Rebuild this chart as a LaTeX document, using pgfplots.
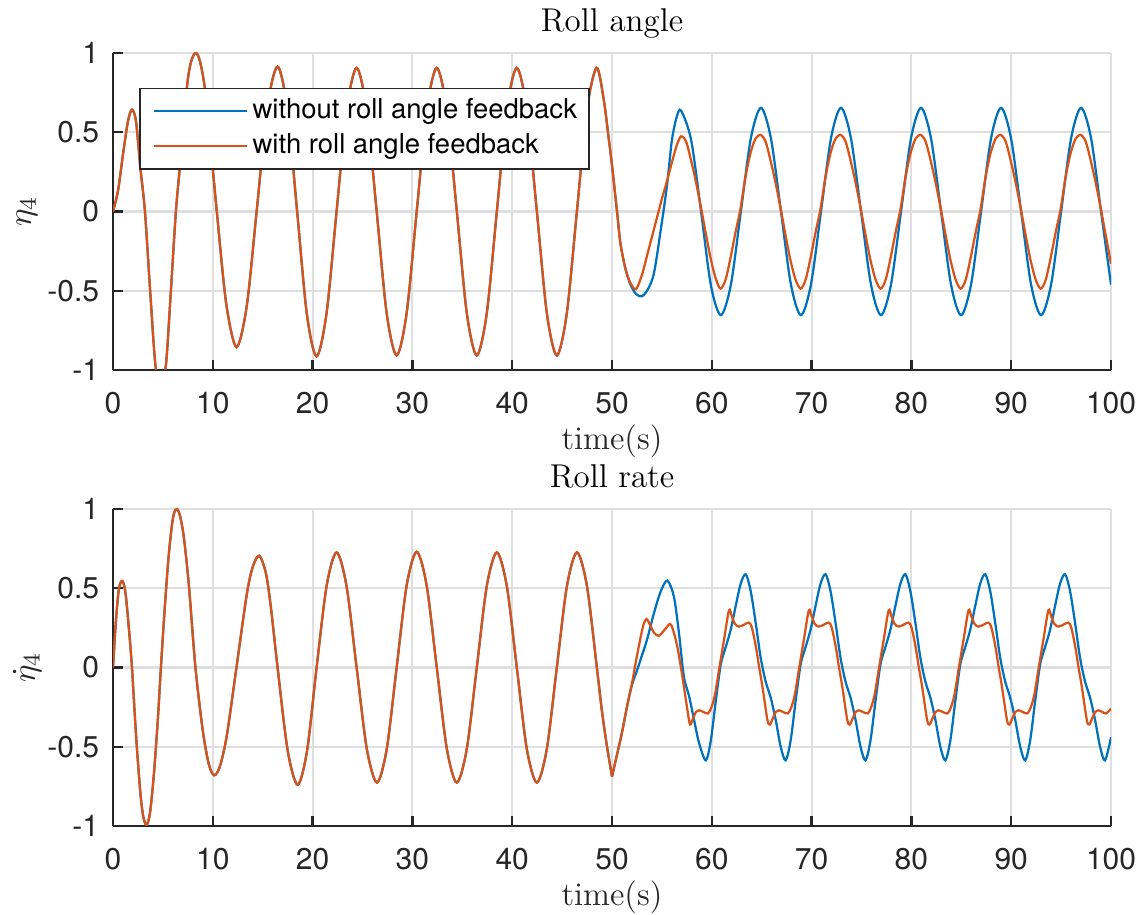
\documentclass[border=0pt]{standalone}
\usepackage{fontspec}
\usepackage{pgfplots}
\usepackage{pgfplotstable}
\pgfplotsset{compat=1.18}
\newfontfamily\heros{TeX Gyre Heros}
\definecolor{mblue}{HTML}{0072BD}
\definecolor{morange}{HTML}{D95319}
\definecolor{axgray}{HTML}{262626}
\definecolor{gridgray}{HTML}{DFDFDF}

% ---------- Roll angle, common part (both series identical) ----------
\pgfplotstableread{
t y
0 0
0.5 0.13
1.0 0.36
1.5 0.57
1.9 0.642
2.3 0.57
2.75 0.27
3.2 0.0
3.7 -0.48
4.25 -0.97
4.78 -1.1
5.3 -0.97
5.8 -0.5
6.3 0.0
6.7 0.28
7.4 0.78
7.8 0.94
8.26 1.0
8.7 0.95
9.29 0.73
10.4 0.0
11.34 -0.58
12.37 -0.856
13.4 -0.597
14.39 0.0
15.46 0.655
16.49 0.914
17.47 0.646
18.45 0.0
19.42 -0.646
20.4 -0.914
21.4 -0.64
22.4 0.0
23.41 0.64
24.41 0.906
25.41 0.64
26.42 0.0
27.42 -0.642
28.42 -0.908
29.42 -0.642
30.43 0.0
31.44 0.64
32.44 0.906
33.44 0.64
34.45 0.0
35.45 -0.642
36.45 -0.908
37.45 -0.642
38.46 0.0
39.46 0.64
40.46 0.906
41.46 0.64
42.47 0.0
43.47 -0.642
44.47 -0.908
45.47 -0.642
46.48 0.0
47.48 0.64
48.45 0.906
49.16 0.71
49.67 0.46
50.0 0.29
50.5 0.0
50.84 -0.2
51.34 -0.36
}\topcommon

\pgfplotstableread{
t y
51.84 -0.46
52.4 -0.52
53.0 -0.535
53.6 -0.49
54.2 -0.39
54.85 -0.13
55.5 0.16
56.0 0.45
56.5 0.60
56.93 0.635
57.93 0.45
58.92 0.0
59.92 -0.47
60.91 -0.654
61.91 -0.462
62.91 0
63.91 0.462
64.92 0.654
65.92 0.462
66.93 0
67.93 -0.462
68.93 -0.654
69.93 -0.462
70.94 0
71.94 0.462
72.94 0.654
73.94 0.462
74.95 0
75.95 -0.462
76.95 -0.654
77.95 -0.462
78.96 0
79.96 0.462
80.96 0.654
81.96 0.462
82.97 0
83.97 -0.462
84.97 -0.654
85.97 -0.462
86.98 0
87.98 0.462
88.98 0.654
89.98 0.462
90.99 0
91.99 -0.462
92.99 -0.654
93.99 -0.462
95.0 0
96.0 0.462
97.0 0.654
98.0 0.462
99.0 0
100 -0.462
}\topblueB

\pgfplotstableread{
t y
51.84 -0.45
52.4 -0.49
53.0 -0.40
53.5 -0.28
54.0 -0.16
54.5 -0.04
55.0 0.08
55.5 0.19
56.0 0.31
56.5 0.42
56.93 0.474
57.43 0.44
57.93 0.32
58.43 0.18
58.93 0.02
59.43 -0.15
59.93 -0.31
60.43 -0.43
60.88 -0.487
61.38 -0.43
61.88 -0.29
62.38 -0.13
62.88 0.02
63.38 0.22
63.88 0.37
64.38 0.46
64.89 0.483
65.39 0.44
65.89 0.32
66.39 0.18
66.89 0.02
67.39 -0.15
67.89 -0.31
68.39 -0.43
68.90 -0.487
69.40 -0.43
69.90 -0.29
70.40 -0.13
70.90 0.02
71.40 0.22
71.90 0.37
72.40 0.46
72.91 0.483
73.41 0.44
73.91 0.32
74.41 0.18
74.91 0.02
75.41 -0.15
75.91 -0.31
76.41 -0.43
76.92 -0.487
77.42 -0.43
77.92 -0.29
78.42 -0.13
78.92 0.02
79.42 0.22
79.92 0.37
80.42 0.46
80.93 0.483
81.43 0.44
81.93 0.32
82.43 0.18
82.93 0.02
83.43 -0.15
83.93 -0.31
84.43 -0.43
84.94 -0.487
85.44 -0.43
85.94 -0.29
86.44 -0.13
86.94 0.02
87.44 0.22
87.94 0.37
88.44 0.46
88.95 0.483
89.45 0.44
89.95 0.32
90.45 0.18
90.95 0.02
91.45 -0.15
91.95 -0.31
92.45 -0.43
92.96 -0.487
93.46 -0.43
93.96 -0.29
94.46 -0.13
94.96 0.02
95.46 0.22
95.96 0.37
96.46 0.46
96.97 0.483
97.47 0.44
97.97 0.32
98.47 0.18
98.97 0.02
99.47 -0.15
100 -0.33
}\toporangeB

\pgfplotstablevertcat{\topblue}{\topcommon}
\pgfplotstablevertcat{\topblue}{\topblueB}
\pgfplotstablevertcat{\toporange}{\topcommon}
\pgfplotstablevertcat{\toporange}{\toporangeB}

% ---------- Roll rate, common part 0-50 ----------
\pgfplotstableread{
t y
0 0
0.3 0.3
0.6 0.5
0.94 0.546
1.25 0.47
1.6 0.24
1.9 0.0
2.3 -0.42
2.7 -0.76
3.0 -0.93
3.34 -0.994
3.7 -0.92
4.1 -0.67
4.5 -0.32
4.8 0.0
5.2 0.39
5.6 0.72
6.0 0.94
6.35 1.0
6.7 0.96
7.1 0.82
7.6 0.52
8.26 0.0
9.0 -0.40
9.6 -0.61
10.13 -0.68
10.7 -0.626
11.4 -0.43
12.37 0.0
13.4 0.46
14.0 0.634
14.65 0.705
15.3 0.60
15.8 0.39
16.49 0.0
17.5 -0.523
18.5 -0.74
19.45 -0.523
20.4 0
21.4 0.513
22.4 0.726
23.4 0.513
24.41 0
25.43 -0.513
26.45 -0.726
27.43 -0.513
28.42 0
29.42 0.516
30.43 0.73
31.43 0.516
32.44 0
33.45 -0.513
34.45 -0.726
35.45 -0.513
36.45 0
37.45 0.513
38.46 0.726
39.46 0.513
40.46 0
41.46 -0.513
42.47 -0.726
43.47 -0.513
44.47 0
45.48 0.513
46.49 0.726
47.49 0.513
48.48 0
49.0 -0.28
49.5 -0.5
50.0 -0.688
}\ratecommon

\pgfplotstableread{
t y
50.0 -0.688
50.5 -0.55
51.0 -0.41
51.5 -0.25
52.0 -0.11
52.5 -0.02
52.85 0.048
53.5 0.174
54.2 0.342
54.87 0.478
55.54 0.548
56.2 0.447
56.71 0.216
57.2 -0.057
57.72 -0.18
58.22 -0.33
58.72 -0.476
59.4 -0.586
59.9 -0.46
60.4 -0.21
60.9 0.02
61.4 0.13
61.9 0.24
62.4 0.39
62.9 0.53
63.4 0.588
63.9 0.48
64.4 0.28
64.9 0.06
65.4 -0.09
65.9 -0.19
66.4 -0.33
66.9 -0.5
67.4 -0.586
67.9 -0.46
68.4 -0.21
68.9 0.02
69.4 0.13
69.9 0.24
70.4 0.39
70.9 0.53
71.4 0.588
71.9 0.48
72.4 0.28
72.9 0.06
73.4 -0.09
73.9 -0.19
74.4 -0.33
74.9 -0.5
75.4 -0.586
75.9 -0.46
76.4 -0.21
76.9 0.02
77.4 0.13
77.9 0.24
78.4 0.39
78.9 0.53
79.4 0.588
79.9 0.48
80.4 0.28
80.9 0.06
81.4 -0.09
81.9 -0.19
82.4 -0.33
82.9 -0.5
83.4 -0.586
83.9 -0.46
84.4 -0.21
84.9 0.02
85.4 0.13
85.9 0.24
86.4 0.39
86.9 0.53
87.4 0.588
87.9 0.48
88.4 0.28
88.9 0.06
89.4 -0.09
89.9 -0.19
90.4 -0.33
90.9 -0.5
91.4 -0.586
91.9 -0.46
92.4 -0.21
92.9 0.02
93.4 0.13
93.9 0.24
94.4 0.39
94.9 0.53
95.4 0.588
95.9 0.48
96.4 0.28
96.9 0.06
97.4 -0.09
97.9 -0.19
98.4 -0.33
98.9 -0.5
99.4 -0.586
100 -0.44
}\rateblueB

\pgfplotstableread{
t y
50.0 -0.688
50.5 -0.55
51.0 -0.41
51.5 -0.245
52.0 -0.1
52.4 0.04
52.8 0.17
53.15 0.27
53.46 0.306
53.8 0.27
54.2 0.22
54.7 0.2
55.3 0.24
55.8 0.275
56.1 0.24
56.54 0.132
57.05 -0.057
57.55 -0.266
57.82 -0.36
58.12 -0.32
58.42 -0.28
58.72 -0.27
59.12 -0.28
59.62 -0.29
59.97 -0.25
60.32 -0.17
60.72 -0.015
61.22 0.174
61.72 0.36
62.02 0.32
62.32 0.275
62.72 0.258
63.22 0.27
63.72 0.283
64.02 0.25
64.42 0.13
64.72 0.01
65.07 -0.12
65.57 -0.33
65.82 -0.36
66.12 -0.32
66.42 -0.28
66.72 -0.27
67.12 -0.28
67.62 -0.29
67.97 -0.25
68.32 -0.17
68.72 -0.015
69.22 0.174
69.72 0.36
70.02 0.32
70.32 0.275
70.72 0.258
71.22 0.27
71.72 0.283
72.02 0.25
72.42 0.13
72.72 0.01
73.07 -0.12
73.57 -0.33
73.82 -0.36
74.12 -0.32
74.42 -0.28
74.72 -0.27
75.12 -0.28
75.62 -0.29
75.97 -0.25
76.32 -0.17
76.72 -0.015
77.22 0.174
77.72 0.36
78.02 0.32
78.32 0.275
78.72 0.258
79.22 0.27
79.72 0.283
80.02 0.25
80.42 0.13
80.72 0.01
81.07 -0.12
81.57 -0.33
81.82 -0.36
82.12 -0.32
82.42 -0.28
82.72 -0.27
83.12 -0.28
83.62 -0.29
83.97 -0.25
84.32 -0.17
84.72 -0.015
85.22 0.174
85.72 0.36
86.02 0.32
86.32 0.275
86.72 0.258
87.22 0.27
87.72 0.283
88.02 0.25
88.42 0.13
88.72 0.01
89.07 -0.12
89.57 -0.33
89.82 -0.36
90.12 -0.32
90.42 -0.28
90.72 -0.27
91.12 -0.28
91.62 -0.29
91.97 -0.25
92.32 -0.17
92.72 -0.015
93.22 0.174
93.72 0.36
94.02 0.32
94.32 0.275
94.72 0.258
95.22 0.27
95.72 0.283
96.02 0.25
96.42 0.13
96.72 0.01
97.07 -0.12
97.57 -0.33
97.82 -0.36
98.12 -0.32
98.42 -0.28
98.72 -0.27
99.12 -0.28
99.5 -0.29
100 -0.26
}\rateorangeB

\pgfplotsset{
  mystyle/.style={
    scale only axis, width=332.67pt, height=105.67pt,
    xmin=0, xmax=100, ymin=-1, ymax=1,
    axis x line*=bottom, axis y line*=left,
    tick align=inside,
    xtick={0,10,...,100}, ytick={-1,-0.5,0,0.5,1},
    xticklabels={0,10,20,30,40,50,60,70,80,90,100},
    yticklabels={-1,-0.5,0,0.5,1},
    major tick length=3.4pt,
    tick style={color=axgray, line width=0.8pt},
    axis line style={color=axgray, line width=0.8pt},
    grid=major,
    major grid style={color=gridgray, line width=0.7pt},
    ticklabel style={font=\heros\fontsize{10}{12}\selectfont, color=axgray},
    xticklabel style={yshift=-3.9pt},
    yticklabel style={xshift=-1.1pt},
    every axis title shift=0pt,
    title style={at={(axis description cs:0.5,1)}, anchor=base, yshift=7pt, font=\fontsize{11}{13}\selectfont},
    xlabel style={at={(axis description cs:0.5,0)}, anchor=base, yshift=-26.4pt, font=\fontsize{11}{13}\selectfont, color=axgray},
    ylabel style={at={(axis description cs:-0.0862,0.5)}, anchor=center, font=\fontsize{11}{13}\selectfont, color=axgray},
    every axis plot/.append style={line width=0.75pt, smooth},
  }
}

\begin{document}
\begin{tikzpicture}
\path[use as bounding box] (0,0) rectangle (380pt,305pt);

\begin{axis}[mystyle,
  at={(37.67pt,181.67pt)}, anchor=south west,
  title={Roll angle}, xlabel={time(s)}, ylabel={$\eta_4$},
  legend style={at={(0.0258,0.8906)}, anchor=north west,
    draw=axgray, line width=0.6pt, fill=white,
    font=\heros\fontsize{9.15}{11}\selectfont, text=black,
    inner xsep=2.5pt, inner ysep=1.75pt, row sep=0.2pt,
    nodes={inner sep=1.4pt, text height=6.7pt, text depth=2pt}},
  legend cell align=left,
  legend image code/.code={\path (0pt,0pt); \draw[#1] (2pt,0pt) -- (33pt,0pt);},
]
\addplot[color=mblue] table[x=t,y=y] {\topblue};
\addlegendentry{without roll angle feedback}
\addplot[color=morange] table[x=t,y=y] {\toporange};
\addlegendentry{with roll angle feedback}
\end{axis}

\begin{axis}[mystyle,
  at={(37.67pt,29.67pt)}, anchor=south west,
  title={Roll rate}, xlabel={time(s)}, ylabel={$\dot{\eta}_4$},
]
\addplot[color=mblue] table[x=t,y=y] {\ratecommon};
\addplot[color=mblue] table[x=t,y=y] {\rateblueB};
\addplot[color=morange] table[x=t,y=y] {\ratecommon};
\addplot[color=morange] table[x=t,y=y] {\rateorangeB};
\end{axis}
\end{tikzpicture}
\end{document}
